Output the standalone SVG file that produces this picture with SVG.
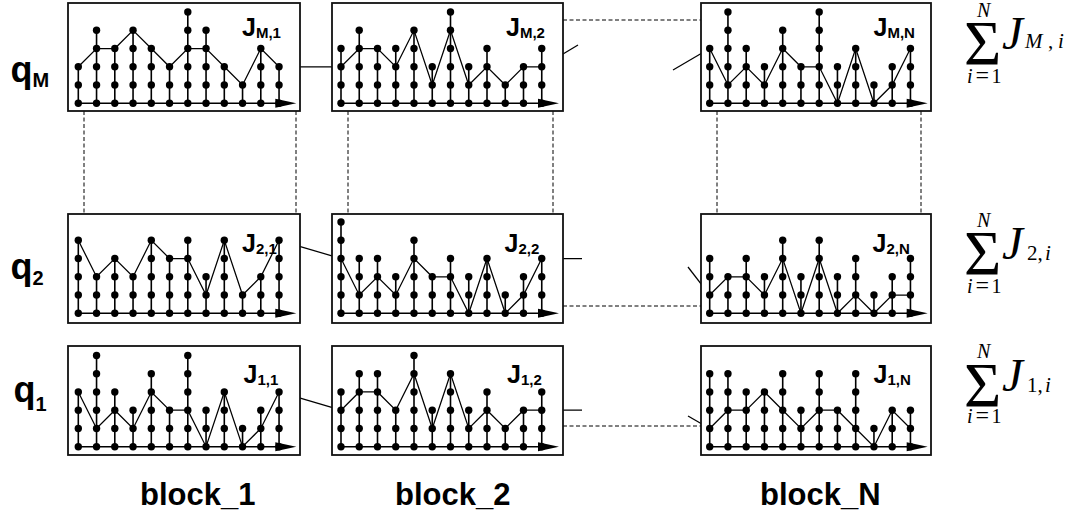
<svg xmlns="http://www.w3.org/2000/svg" width="1069" height="522" viewBox="0 0 1069 522">
<style>
.bx{fill:#fff;stroke:#111;stroke-width:1.8}
.st{stroke:#000;stroke-width:1.6}
.pl{fill:none;stroke:#000;stroke-width:1.25}
.cn{fill:none;stroke:#000;stroke-width:1.25}
.ds{fill:none;stroke:#000;stroke-width:1;stroke-dasharray:4 2.5}
.lb{font-family:"Liberation Sans",Arial,sans-serif;font-weight:bold;fill:#000}
.jl{font-family:"Liberation Sans",Arial,sans-serif;font-weight:bold;font-size:25px;fill:#000}
.mt{font-family:"Liberation Serif","Times New Roman",serif;fill:#000}
.it{font-style:italic}
</style>
<defs>
<g id="c1"><line class="st" y2="-18.25"/><circle r="3.7"/><circle cy="-18.25" r="3.7"/></g>
<g id="c2"><line class="st" y2="-36.5"/><circle r="3.7"/><circle cy="-18.25" r="3.7"/><circle cy="-36.5" r="3.7"/></g>
<g id="c3"><line class="st" y2="-54.75"/><circle r="3.7"/><circle cy="-18.25" r="3.7"/><circle cy="-36.5" r="3.7"/><circle cy="-54.75" r="3.7"/></g>
<g id="c4"><line class="st" y2="-73"/><circle r="3.7"/><circle cy="-18.25" r="3.7"/><circle cy="-36.5" r="3.7"/><circle cy="-54.75" r="3.7"/><circle cy="-73" r="3.7"/></g>
<g id="c5"><line class="st" y2="-91.25"/><circle r="3.7"/><circle cy="-18.25" r="3.7"/><circle cy="-36.5" r="3.7"/><circle cy="-54.75" r="3.7"/><circle cy="-73" r="3.7"/><circle cy="-91.25" r="3.7"/></g>
<g id="ax"><line class="st" x2="205"/><polygon points="197,-4.5 218,0 197,4.5"/></g>
</defs>

<!-- row labels -->
<g id="label_qM"><text class="lb" x="10.5" y="82" font-size="36">q<tspan font-size="20" dy="5">M</tspan></text></g>
<g id="label_q2"><text class="lb" x="10.5" y="279" font-size="36">q<tspan font-size="20" dy="6">2</tspan></text></g>
<g id="label_q1"><text class="lb" x="13.5" y="402" font-size="36">q<tspan font-size="20" dy="9">1</tspan></text></g>

<!-- connectors -->
<g id="connectors">
<line class="cn" x1="279.05" y1="66.8" x2="341" y2="66.8"/>
<line class="cn" x1="541.75" y1="66.8" x2="578" y2="45"/>
<line class="cn" x1="673" y1="70" x2="709.7" y2="48.55"/>
<line class="ds" x1="563" y1="20" x2="701" y2="20"/>
<line class="cn" x1="279.05" y1="240.3" x2="341" y2="258.55"/>
<line class="cn" x1="541.75" y1="258.55" x2="582" y2="258.55"/>
<line class="cn" x1="688" y1="267" x2="709.7" y2="295.05"/>
<line class="ds" x1="563" y1="306" x2="701" y2="306"/>
<line class="cn" x1="279.05" y1="391.95" x2="341" y2="410.2"/>
<line class="cn" x1="541.75" y1="410.2" x2="582" y2="410.2"/>
<line class="cn" x1="688" y1="416" x2="709.7" y2="428.45"/>
<line class="ds" x1="563" y1="426" x2="701" y2="426"/>
<line class="ds" x1="84" y1="111" x2="84" y2="214"/>
<line class="ds" x1="296" y1="111" x2="296" y2="214"/>
<line class="ds" x1="348" y1="111" x2="348" y2="214"/>
<line class="ds" x1="553" y1="111" x2="553" y2="214"/>
<line class="ds" x1="717" y1="111" x2="717" y2="214"/>
<line class="ds" x1="921" y1="111" x2="921" y2="214"/>
</g>

<!-- row M -->
<g id="J_M1">
<rect class="bx" x="68" y="3" width="232" height="108"/>
<text class="jl" x="242" y="36">J<tspan font-size="15" dy="2">M,1</tspan></text>
<g transform="translate(78.3,103.3)">
<use href="#ax"/>
<polyline class="pl" points="0,-36.5 18.25,-54.75 36.5,-54.75 54.75,-73 73,-54.75 91.25,-36.5 109.5,-54.75 127.75,-54.75 146,-36.5 164.25,-18.25 182.5,-54.75 200.75,-36.5"/>
<use href="#c2" x="0"/><use href="#c4" x="18.25"/><use href="#c3" x="36.5"/><use href="#c4" x="54.75"/><use href="#c3" x="73"/><use href="#c2" x="91.25"/><use href="#c5" x="109.5"/><use href="#c4" x="127.75"/><use href="#c2" x="146"/><use href="#c1" x="164.25"/><use href="#c3" x="182.5"/><use href="#c2" x="200.75"/>
</g>
</g>
<g id="J_M2">
<rect class="bx" x="332" y="3" width="231" height="108"/>
<text class="jl" x="506" y="36">J<tspan font-size="15" dy="2">M,2</tspan></text>
<g transform="translate(341,103.3)">
<use href="#ax"/>
<polyline class="pl" points="0,-36.5 18.25,-54.75 36.5,-54.75 54.75,-36.5 73,-73 91.25,-18.25 109.5,-73 127.75,-18.25 146,-36.5 164.25,-18.25 182.5,-36.5 200.75,-36.5"/>
<use href="#c3" x="0"/><use href="#c4" x="18.25"/><use href="#c3" x="36.5"/><use href="#c3" x="54.75"/><use href="#c4" x="73"/><use href="#c2" x="91.25"/><use href="#c5" x="109.5"/><use href="#c2" x="127.75"/><use href="#c3" x="146"/><use href="#c1" x="164.25"/><use href="#c2" x="182.5"/><use href="#c3" x="200.75"/>
</g>
</g>
<g id="J_MN">
<rect class="bx" x="701" y="3" width="230" height="108"/>
<text class="jl" x="873.5" y="36">J<tspan font-size="15" dy="2">M,N</tspan></text>
<g transform="translate(709.7,103.3)">
<use href="#ax"/>
<polyline class="pl" points="0,-54.75 18.25,-18.25 36.5,-36.5 54.75,-18.25 73,-54.75 91.25,-36.5 109.5,-36.5 127.75,0 146,-54.75 164.25,0 182.5,-18.25 200.75,-54.75"/>
<use href="#c3" x="0"/><use href="#c5" x="18.25"/><use href="#c3" x="36.5"/><use href="#c2" x="54.75"/><use href="#c4" x="73"/><use href="#c2" x="91.25"/><use href="#c5" x="109.5"/><use href="#c2" x="127.75"/><use href="#c3" x="146"/><use href="#c1" x="164.25"/><use href="#c2" x="182.5"/><use href="#c3" x="200.75"/>
</g>
</g>

<!-- row 2 -->
<g id="J_21">
<rect class="bx" x="68" y="214" width="232" height="109"/>
<text class="jl" x="242" y="251.5">J<tspan font-size="15" dy="2">2,1</tspan></text>
<g transform="translate(78.3,313.3)">
<use href="#ax"/>
<polyline class="pl" points="0,-73 18.25,-36.5 36.5,-54.75 54.75,-36.5 73,-73 91.25,-54.75 109.5,-54.75 127.75,-18.25 146,-73 164.25,-18.25 182.5,-36.5 200.75,-73"/>
<use href="#c4" x="0"/><use href="#c2" x="18.25"/><use href="#c3" x="36.5"/><use href="#c2" x="54.75"/><use href="#c4" x="73"/><use href="#c3" x="91.25"/><use href="#c4" x="109.5"/><use href="#c2" x="127.75"/><use href="#c4" x="146"/><use href="#c1" x="164.25"/><use href="#c2" x="182.5"/><use href="#c4" x="200.75"/>
</g>
</g>
<g id="J_22">
<rect class="bx" x="332" y="214" width="231" height="109"/>
<text class="jl" x="504.5" y="251.5">J<tspan font-size="15" dy="2">2,2</tspan></text>
<g transform="translate(341,313.3)">
<use href="#ax"/>
<polyline class="pl" points="0,-54.75 18.25,-18.25 36.5,-36.5 54.75,-18.25 73,-54.75 91.25,-36.5 109.5,-36.5 127.75,0 146,-54.75 164.25,0 182.5,-18.25 200.75,-54.75"/>
<use href="#c5" x="0"/><use href="#c3" x="18.25"/><use href="#c3" x="36.5"/><use href="#c2" x="54.75"/><use href="#c4" x="73"/><use href="#c2" x="91.25"/><use href="#c3" x="109.5"/><use href="#c2" x="127.75"/><use href="#c3" x="146"/><use href="#c1" x="164.25"/><use href="#c2" x="182.5"/><use href="#c3" x="200.75"/>
</g>
</g>
<g id="J_2N">
<rect class="bx" x="701" y="214" width="230" height="109"/>
<text class="jl" x="872.5" y="251.5">J<tspan font-size="15" dy="2">2,N</tspan></text>
<g transform="translate(709.7,313.3)">
<use href="#ax"/>
<polyline class="pl" points="0,-18.25 18.25,-36.5 36.5,-36.5 54.75,-18.25 73,-54.75 91.25,0 109.5,-54.75 127.75,0 146,-18.25 164.25,0 182.5,-18.25 200.75,-18.25"/>
<use href="#c3" x="0"/><use href="#c2" x="18.25"/><use href="#c3" x="36.5"/><use href="#c2" x="54.75"/><use href="#c4" x="73"/><use href="#c2" x="91.25"/><use href="#c4" x="109.5"/><use href="#c2" x="127.75"/><use href="#c3" x="146"/><use href="#c1" x="164.25"/><use href="#c2" x="182.5"/><use href="#c3" x="200.75"/>
</g>
</g>

<!-- row 1 -->
<g id="J_11">
<rect class="bx" x="68" y="346" width="232" height="109"/>
<text class="jl" x="243.5" y="382.5">J<tspan font-size="15" dy="2">1,1</tspan></text>
<g transform="translate(78.3,446.7)">
<use href="#ax"/>
<polyline class="pl" points="0,-54.75 18.25,-18.25 36.5,-36.5 54.75,-18.25 73,-54.75 91.25,-36.5 109.5,-36.5 127.75,0 146,-54.75 164.25,0 182.5,-18.25 200.75,-54.75"/>
<use href="#c3" x="0"/><use href="#c5" x="18.25"/><use href="#c3" x="36.5"/><use href="#c2" x="54.75"/><use href="#c4" x="73"/><use href="#c2" x="91.25"/><use href="#c5" x="109.5"/><use href="#c2" x="127.75"/><use href="#c3" x="146"/><use href="#c1" x="164.25"/><use href="#c2" x="182.5"/><use href="#c3" x="200.75"/>
</g>
</g>
<g id="J_12">
<rect class="bx" x="332" y="346" width="231" height="109"/>
<text class="jl" x="507" y="382.5">J<tspan font-size="15" dy="2">1,2</tspan></text>
<g transform="translate(341,446.7)">
<use href="#ax"/>
<polyline class="pl" points="0,-36.5 18.25,-54.75 36.5,-54.75 54.75,-36.5 73,-73 91.25,-18.25 109.5,-73 127.75,-18.25 146,-36.5 164.25,-18.25 182.5,-36.5 200.75,-36.5"/>
<use href="#c3" x="0"/><use href="#c4" x="18.25"/><use href="#c4" x="36.5"/><use href="#c2" x="54.75"/><use href="#c5" x="73"/><use href="#c2" x="91.25"/><use href="#c4" x="109.5"/><use href="#c2" x="127.75"/><use href="#c3" x="146"/><use href="#c1" x="164.25"/><use href="#c2" x="182.5"/><use href="#c3" x="200.75"/>
</g>
</g>
<g id="J_1N">
<rect class="bx" x="701" y="346" width="230" height="109"/>
<text class="jl" x="873.5" y="382.5">J<tspan font-size="15" dy="2">1,N</tspan></text>
<g transform="translate(709.7,446.7)">
<use href="#ax"/>
<polyline class="pl" points="0,-18.25 18.25,-36.5 36.5,-36.5 54.75,-54.75 73,-36.5 91.25,-18.25 109.5,-36.5 127.75,-36.5 146,-18.25 164.25,0 182.5,-36.5 200.75,-18.25"/>
<use href="#c4" x="0"/><use href="#c4" x="18.25"/><use href="#c3" x="36.5"/><use href="#c3" x="54.75"/><use href="#c4" x="73"/><use href="#c2" x="91.25"/><use href="#c4" x="109.5"/><use href="#c2" x="127.75"/><use href="#c4" x="146"/><use href="#c1" x="164.25"/><use href="#c2" x="182.5"/><use href="#c2" x="200.75"/>
</g>
</g>

<!-- sums -->
<g id="sum_M" class="mt">
<text font-size="20"><tspan x="977" y="17" class="it">N</tspan><tspan x="964" y="65" font-size="64">Σ</tspan><tspan x="967" y="83" class="it">i</tspan><tspan x="975.5" y="83" font-size="24">=</tspan><tspan x="991.5" y="83">1</tspan></text>
<text x="1002" y="49" font-size="47" class="it">J</text>
<text x="1025" y="48" font-size="21"><tspan class="it">M</tspan><tspan x="1048">,</tspan><tspan x="1058" class="it">i</tspan></text>
</g>
<g id="sum_2" class="mt">
<text font-size="20"><tspan x="977" y="227" class="it">N</tspan><tspan x="964" y="275" font-size="64">Σ</tspan><tspan x="967" y="293" class="it">i</tspan><tspan x="975.5" y="293" font-size="24">=</tspan><tspan x="991.5" y="293">1</tspan></text>
<text x="1002" y="259" font-size="47" class="it">J</text>
<text x="1027" y="260" font-size="21">2<tspan>,</tspan><tspan x="1045" class="it">i</tspan></text>
</g>
<g id="sum_1" class="mt">
<text font-size="20"><tspan x="977" y="358" class="it">N</tspan><tspan x="964" y="407" font-size="64">Σ</tspan><tspan x="967" y="423" class="it">i</tspan><tspan x="975.5" y="423" font-size="24">=</tspan><tspan x="991.5" y="423">1</tspan></text>
<text x="1002" y="391" font-size="47" class="it">J</text>
<text x="1027" y="392" font-size="21">1<tspan>,</tspan><tspan x="1045" class="it">i</tspan></text>
</g>

<!-- column labels -->
<g id="label_block1"><text class="lb" x="140" y="505" font-size="31">block_1</text></g>
<g id="label_block2"><text class="lb" x="395" y="505" font-size="31">block_2</text></g>
<g id="label_blockN"><text class="lb" x="760" y="505" font-size="31">block_N</text></g>
</svg>
